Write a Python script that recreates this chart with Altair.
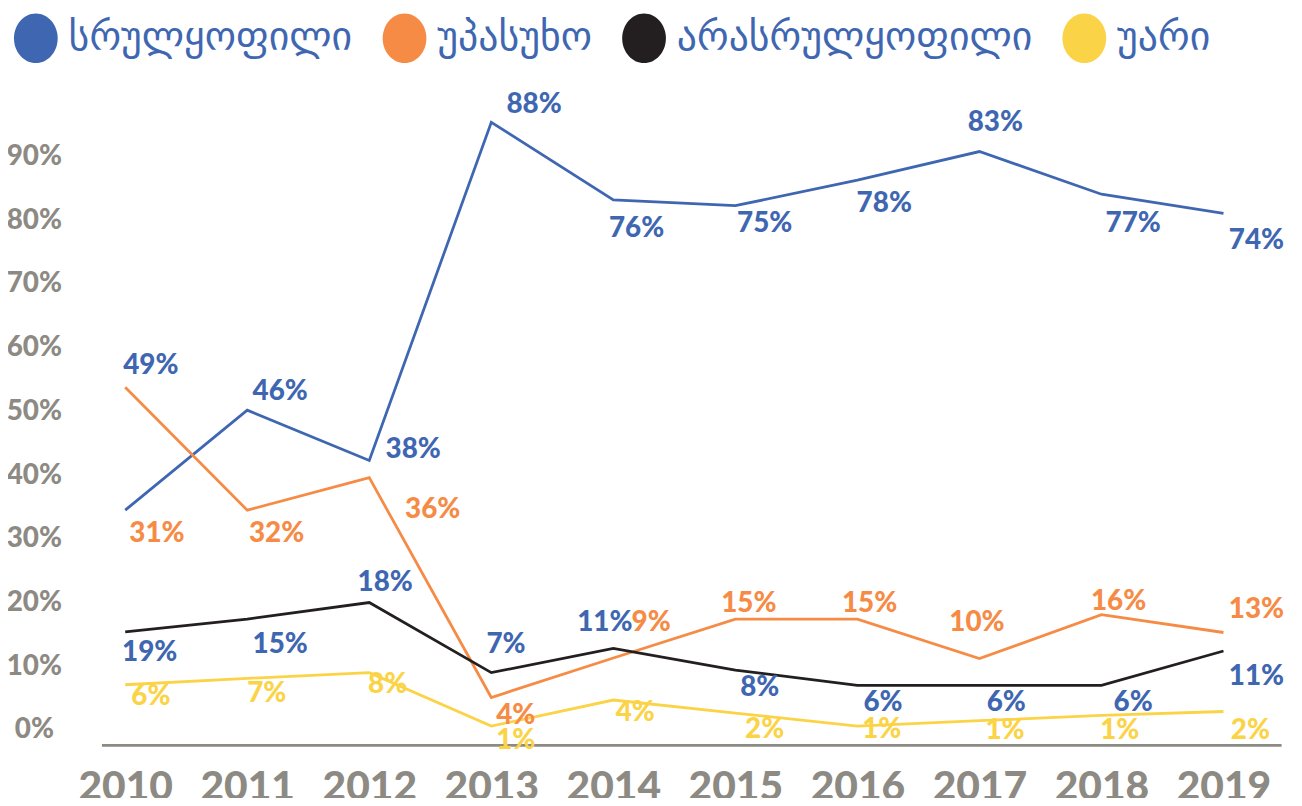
import altair as alt
import pandas as pd

# ---- data ----
years = [2010, 2011, 2012, 2013, 2014, 2015, 2016, 2017, 2018, 2019]
series = ["სრულყოფილი", "უპასუხო", "არასრულყოფილი", "უარი"]

# line vertices (as drawn, in % on the value axis)
line_full = [34.5, 50.2, 42.3, 95.4, 83.2, 82.3, 86.3, 90.8, 84.1, 81.1]
line_noans = [53.8, 34.5, 39.6, 5.1, 11.3, 17.4, 17.4, 11.2, 18.1, 15.3]
line_incomp = [15.4, 17.4, 20.0, 9.0, 12.8, 9.4, 7.0, 7.0, 7.0, 12.4]
line_refuse = [7.1, 8.1, 9.0, 0.6, 4.7, 2.65, 0.6, 1.45, 2.3, 2.9]

# printed data labels
lbl_full = [49, 46, 38, 88, 76, 75, 78, 83, 77, 74]
lbl_noans = [31, 32, 36, 4, 9, 15, 15, 10, 16, 13]
lbl_incomp = [19, 15, 18, 7, 11, 8, 6, 6, 6, 11]
lbl_refuse = [6, 7, 8, 1, 4, 2, 1, 1, 1, 2]

# where each printed label sits (year axis, value axis)
lx_full = [2010.21, 2011.27, 2012.36, 2013.35, 2014.19, 2015.24, 2016.22, 2017.13, 2018.26, 2019.27]
ly_full = [57.1, 53.0, 44.0, 98.1, 78.6, 79.4, 82.5, 95.2, 79.4, 76.8]
lx_noans = [2010.26, 2011.24, 2012.52, 2013.20, 2014.31, 2015.11, 2016.10, 2016.98, 2018.14, 2019.27]
ly_noans = [30.7, 30.7, 34.5, 2.2, 16.8, 19.7, 19.7, 16.8, 20.1, 18.8]
lx_incomp = [2010.20, 2011.27, 2012.13, 2013.12, 2013.93, 2015.20, 2016.21, 2017.22, 2018.26, 2019.27]
ly_incomp = [12.0, 13.3, 23.1, 13.3, 16.8, 6.6, 4.3, 4.3, 4.3, 8.3]
lx_refuse = [2010.21, 2011.16, 2012.15, 2013.20, 2014.18, 2015.24, 2016.20, 2017.21, 2018.15, 2019.22]
ly_refuse = [5.1, 5.6, 7.0, -1.7, 2.7, 0.0, 0.0, -0.2, -0.2, -0.2]

y_ticks = [0, 10, 20, 30, 40, 50, 60, 70, 80, 90]

# ---- styles ----
BLUE = "#3f67b1"
ORANGE = "#f68b46"
BLACK = "#231f20"
YELLOW = "#fbd347"
GRAY = "#8d8a84"
line_colors = [BLUE, ORANGE, BLACK, YELLOW]
label_colors = [BLUE, ORANGE, BLUE, YELLOW]
NUM_FONT = "Lato"

lines = [line_full, line_noans, line_incomp, line_refuse]
lbls = [lbl_full, lbl_noans, lbl_incomp, lbl_refuse]
lxs = [lx_full, lx_noans, lx_incomp, lx_refuse]
lys = [ly_full, ly_noans, ly_incomp, ly_refuse]

line_rows = []
label_rows = []
for i, s in enumerate(series):
    for j, yr in enumerate(years):
        line_rows.append({"year": yr, "series": s, "value": lines[i][j],
                          "lc": line_colors[i]})
        label_rows.append({"series": s, "text": f"{lbls[i][j]}%", "lx": lxs[i][j],
                           "ly": lys[i][j], "lcolor": label_colors[i]})
line_df = pd.DataFrame(line_rows)
label_df = pd.DataFrame(label_rows)
legend_df = pd.DataFrame({"series": series})

x_scale = alt.Scale(domain=[2009.805, 2019.472], nice=False, zero=False)
y_scale = alt.Scale(domain=[-2.34, 100], nice=False, zero=False)

x_axis = alt.Axis(values=years, format="d", title=None, grid=False, ticks=False, tickSize=0,
                  domainColor=GRAY, domainWidth=3, labelColor=GRAY, labelFont=NUM_FONT,
                  labelFontWeight=900, labelFontSize=41, labelPadding=43,
                  labelBaseline="middle", labelFlush=False)
y_axis = alt.Axis(values=y_ticks, labelExpr="datum.value + '%'", title=None, grid=False,
                  ticks=False, tickSize=0, domain=False, labelColor=GRAY, labelFont=NUM_FONT,
                  labelFontWeight=900, labelFontSize=28, labelAlign="center",
                  labelBaseline="middle", labelPadding=68)

# tall ellipse drawn with cubic curves (unit box)
ellipse = ("M0,-1 C0.486,-1 0.88,-0.552 0.88,0 C0.88,0.552 0.486,1 0,1 "
           "C-0.486,1 -0.88,0.552 -0.88,0 C-0.88,-0.552 -0.486,-1 0,-1 Z")

line_layer = alt.Chart(line_df).mark_line(strokeWidth=2.8).encode(
    x=alt.X("year:Q", scale=x_scale, axis=x_axis),
    y=alt.Y("value:Q", scale=y_scale, axis=y_axis),
    color=alt.Color("lc:N", scale=None),
    detail="series:N",
)

legend_layer = alt.Chart(legend_df).mark_point(filled=True, opacity=1, size=0).encode(
    fill=alt.Fill("series:N", scale=alt.Scale(domain=series, range=line_colors),
                  legend=alt.Legend(orient="none", legendX=-91, legendY=-80,
                                    direction="horizontal", title=None,
                                    symbolType=ellipse, symbolSize=2500, symbolStrokeWidth=0,
                                    symbolOpacity=1, labelFont="DejaVu Sans",
                                    labelFontSize=40, labelColor=BLUE, labelOffset=8,
                                    columnPadding=27, padding=0, labelLimit=600)),
)

text_layer = alt.Chart(label_df).mark_text(
    font=NUM_FONT, fontWeight=900, fontSize=28, align="center", baseline="middle"
).encode(
    x=alt.X("lx:Q", scale=x_scale),
    y=alt.Y("ly:Q", scale=y_scale),
    text="text:N",
    color=alt.Color("lcolor:N", scale=None),
)

chart = alt.layer(line_layer, legend_layer, text_layer).properties(
    width=1187, height=656,
    autosize=alt.AutoSizeParams(type="none"),
    padding={"left": 94, "top": 83, "right": 13, "bottom": 51},
).configure(background="white").configure_view(strokeWidth=0, stroke=None)

chart.save("out.html", embed_options={"renderer": "svg", "actions": False})
